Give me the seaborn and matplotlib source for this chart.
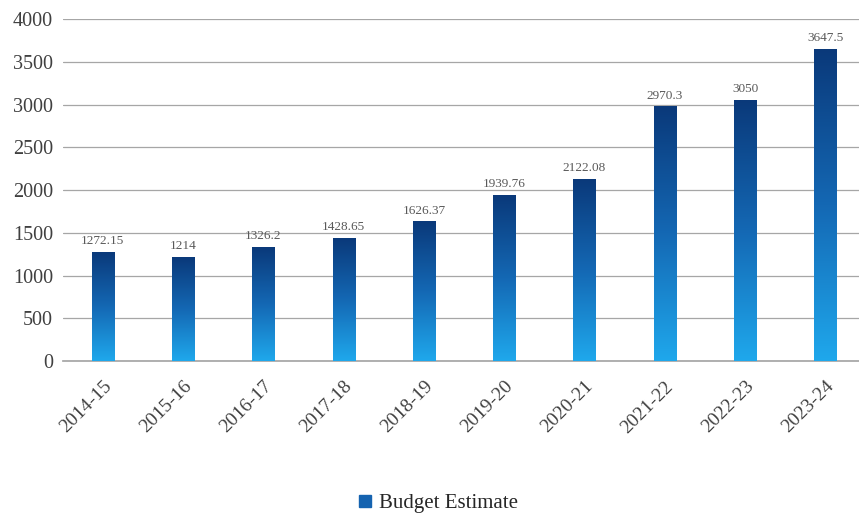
import matplotlib
matplotlib.use("Agg")
import matplotlib.pyplot as plt
import seaborn as sns
import numpy as np
import pandas as pd
from matplotlib.colors import LinearSegmentedColormap
from matplotlib.lines import Line2D

years = ["2014-15", "2015-16", "2016-17", "2017-18", "2018-19",
         "2019-20", "2020-21", "2021-22", "2022-23", "2023-24"]
budget = [1272.15, 1214, 1326.2, 1428.65, 1626.37, 1939.76, 2122.08, 2970.3, 3050, 3647.5]
value_labels = ["1272.15", "1214", "1326.2", "1428.65", "1626.37",
                "1939.76", "2122.08", "2970.3", "3050", "3647.5"]
yticks = [0, 500, 1000, 1500, 2000, 2500, 3000, 3500, 4000]

sns.set_theme(style="white")
plt.rcParams['font.family'] = ['Liberation Serif', 'DejaVu Serif']

df = pd.DataFrame({"Year": years, "Budget Estimate": budget})

fig = plt.figure(figsize=(8.59, 5.16), dpi=100)
ax = fig.add_axes([0.073, 0.300, 0.927, 0.663])

sns.barplot(data=df, x="Year", y="Budget Estimate", ax=ax, width=0.275,
            color="#0d4a8f", saturation=1, zorder=3)

cmap = LinearSegmentedColormap.from_list("g", ["#1fa8ec", "#1468b4", "#0a397a"])
grad = np.linspace(0, 1, 256).reshape(-1, 1)
for p in ax.patches:
    x0, y0 = p.get_x(), p.get_y()
    w, h = p.get_width(), p.get_height()
    p.set_facecolor("none")
    p.set_edgecolor("none")
    ax.imshow(grad, extent=[x0, x0 + w, y0, y0 + h], origin="lower",
              cmap=cmap, aspect="auto", zorder=3)

for i, (v, lab) in enumerate(zip(budget, value_labels)):
    ax.text(i, v + 65, lab, ha="center", va="bottom", fontsize=9.5, color="#595959", zorder=4)

ax.set_xlim(-0.5, 9.42)
ax.set_ylim(0, 4000)
ax.set_yticks(yticks)
ax.set_yticklabels([str(t) for t in yticks], fontsize=14.5, color="#404040")
ax.yaxis.grid(True, color="#a6a6a6", linewidth=0.9, zorder=0)
ax.set_axisbelow(True)
ax.set_xlabel("")
ax.set_ylabel("")
plt.setp(ax.get_xticklabels(), rotation=45, ha="right", rotation_mode="anchor",
         fontsize=14, color="#404040")
for s in ["top", "right", "left"]:
    ax.spines[s].set_visible(False)
ax.spines["bottom"].set_color("#a6a6a6")
ax.tick_params(axis="y", length=0, pad=7)
ax.tick_params(axis="x", length=0, pad=12)

handle = Line2D([], [], marker="s", linestyle="none", markersize=8,
                markerfacecolor="#1563b0", markeredgecolor="#1563b0")
fig.legend([handle], ["Budget Estimate"], loc="center", bbox_to_anchor=(0.508, 0.025),
           frameon=False, fontsize=15, handletextpad=0.2, handlelength=1.0)

fig.savefig("out.png", dpi=100)
